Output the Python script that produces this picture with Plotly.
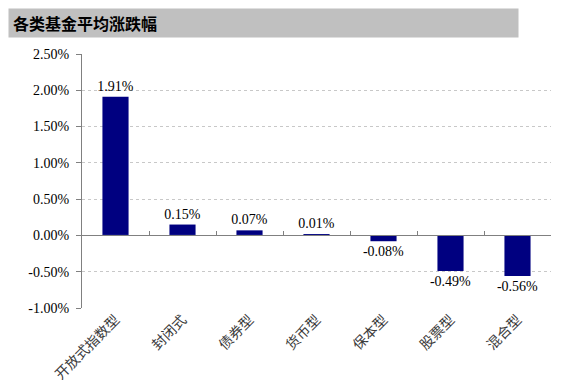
import plotly.graph_objects as go

categories = ["开放式指数型", "封闭式", "债券型", "货币型", "保本型", "股票型", "混合型"]
values = [1.91, 0.15, 0.07, 0.01, -0.08, -0.49, -0.56]
value_labels = ["1.91%", "0.15%", "0.07%", "0.01%", "-0.08%", "-0.49%", "-0.56%"]
y_ticks = [-1.0, -0.5, 0.0, 0.5, 1.0, 1.5, 2.0, 2.5]
y_tick_labels = ["-1.00%", "-0.50%", "0.00%", "0.50%", "1.00%", "1.50%", "2.00%", "2.50%"]
title_text = "各类基金平均涨跌幅"

serif = "Liberation Serif, Times New Roman, Noto Sans CJK SC, serif"

fig = go.Figure()
fig.add_trace(go.Bar(
    x=categories, y=values,
    marker=dict(color="#000080", line=dict(width=0)),
    text=value_labels, textposition="outside", constraintext="none",
    textfont=dict(family=serif, size=14, color="#000000"),
    cliponaxis=False,
    xaxis="x", yaxis="y",
))
# invisible trace to drive the zero-line category axis
fig.add_trace(go.Bar(x=categories, y=[0] * len(categories), xaxis="x2", yaxis="y",
                     showlegend=False, hoverinfo="skip", marker=dict(color="rgba(0,0,0,0)")))

OFF = 8  # page body margin
W, H = 569 - OFF, 390 - OFF
ml, mr, mt, mb = 82 - OFF, 18, 54 - OFF, 82
pw, ph = W - ml - mr, H - mt - mb
ymin, ymax = -1.0, 2.5

fig.update_layout(
    width=W, height=H,
    margin=dict(l=ml, r=mr, t=mt, b=mb, autoexpand=False),
    paper_bgcolor="white", plot_bgcolor="white",
    showlegend=False,
    bargap=0.61,
    barmode="overlay",
    xaxis=dict(
        type="category", showline=False, showgrid=False, ticks="",
        tickangle=-45, zeroline=False, automargin=False,
        tickfont=dict(family="Noto Sans CJK SC", size=14, color="#3a3a3a"),
    ),
    xaxis2=dict(
        type="category", overlaying="x", matches="x", anchor="free",
        position=(0 - ymin) / (ymax - ymin), automargin=False,
        showline=True, linecolor="#808080", linewidth=1,
        ticks="inside", ticklen=4, tickcolor="#808080", tickson="boundaries",
        showticklabels=False, showgrid=False, zeroline=False,
    ),
    yaxis=dict(
        range=[ymin, ymax], tickvals=y_ticks, ticktext=y_tick_labels,
        showline=True, linecolor="#808080", linewidth=1,
        ticks="outside", ticklen=5, tickcolor="#808080",
        ticklabelstandoff=4, automargin=False,
        showgrid=True, gridcolor="#c8c8c8", griddash="dot", gridwidth=1,
        zeroline=False,
        tickfont=dict(family=serif, size=14, color="#000000"),
    ),
    annotations=[dict(
        text="<b>" + title_text + "</b>", xref="paper", yref="paper",
        x=(0 - ml) / pw, y=(H - mb) / ph,
        xanchor="left", yanchor="top", align="left",
        showarrow=False, width=501, height=20, bgcolor="#c0c0c0",
        borderpad=4,
        font=dict(family="Noto Sans CJK SC", size=16, color="#000000"),
    )],
)

fig.write_html("out.html")
